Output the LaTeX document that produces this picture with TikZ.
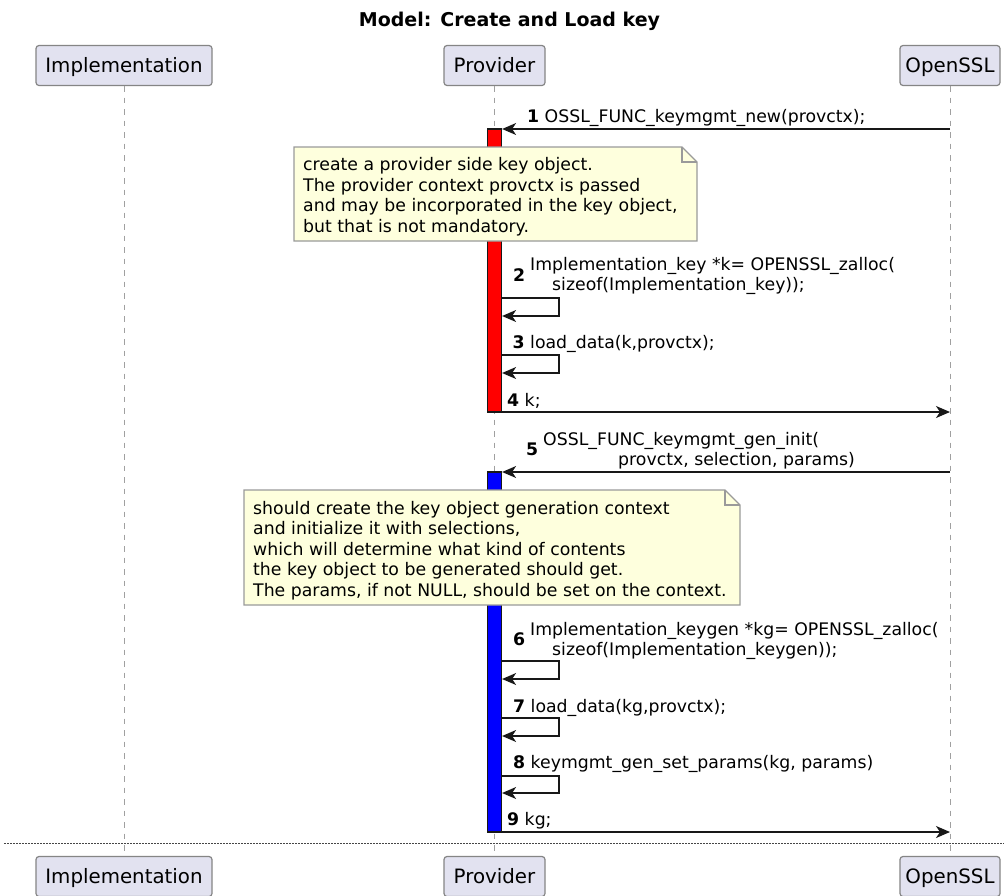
\documentclass[tikz,border=0pt]{standalone}
\usepackage{fontspec}
\setmainfont{DejaVu Sans}
\usetikzlibrary{arrows.meta}

\definecolor{partfill}{HTML}{E2E2F0}
\definecolor{partdraw}{HTML}{858585}
\definecolor{notefill}{HTML}{FEFFDD}
\definecolor{notedraw}{HTML}{9A9A9A}
\definecolor{ink}{HTML}{181818}
\definecolor{lifec}{HTML}{A0A0A0}

\newcommand{\msgfont}{\fontsize{17.3}{19.6}\selectfont}
\newcommand{\notefont}{\fontsize{17.3}{20.4}\selectfont}

\begin{document}
\begin{tikzpicture}[x=1pt,y=-1pt,
  part/.style={draw=partdraw, fill=partfill, rounded corners=3pt, line width=1.2pt,
    minimum height=40pt, inner sep=0pt, text height=14.3pt, text depth=0pt,
    font=\fontsize{19.8}{23}\selectfont},
  life/.style={draw=lifec, line width=1pt, dash pattern=on 5.5pt off 6pt},
  sepline/.style={draw=ink!80, line width=1pt, dash pattern=on 1.5pt off 1.5pt},
  actbar/.style={draw=ink, line width=1.2pt, minimum width=14pt, inner sep=0pt},
  notebg/.style={draw=notedraw, fill=notefill, line width=1.2pt, line join=miter},
  notefold/.style={draw=notedraw, line width=1.2pt},
  notetext/.style={anchor=base west, align=left, inner sep=0pt, font=\notefont},
  lbl/.style={anchor=base west, align=left, inner sep=0pt, font=\msgfont},
  msg/.style={draw=ink, line width=1.3pt, -{Stealth[length=14pt,width=12pt,inset=4pt]}},
  titlestyle/.style={anchor=base, inner sep=0pt, font=\bfseries\fontsize{19}{23}\selectfont}
]
\useasboundingbox (0,0) rectangle (1004,895);
\fill[white] (0,0) rectangle (1004,895);

% title
\node[titlestyle] (title) at (509.5,26) {Model: Create and Load key};

% participants
\node[part, minimum width=176pt] (impl) at (124,65.5) {Implementation};
\node[part, minimum width=101pt] (prov) at (494.5,65.5) {Provider};
\node[part, minimum width=100pt] (ossl) at (950,65.5) {OpenSSL};
\node[part, minimum width=176pt] (implB) at (124,876.5) {Implementation};
\node[part, minimum width=101pt] (provB) at (494.5,876.5) {Provider};
\node[part, minimum width=100pt] (osslB) at (950,876.5) {OpenSSL};

% lifelines
\draw[life] (impl.south) -- (implB.north);
\draw[life] (prov.south) -- (provB.north);
\draw[life] (ossl.south) -- (osslB.north);

% separator
\coordinate (sepL) at (4,843);
\coordinate (sepR) at (1004,843);
\draw[sepline] (sepL) -- (sepR);

% activation bars
\node[actbar, fill=red, minimum height=283pt] (act1) at (494.5,270.5) {};
\node[actbar, fill=blue, minimum height=360pt] (act2) at (494.5,652) {};

% note 1 (anchor at last line baseline)
\filldraw[notebg] (294,147) -- (682,147) -- (697,162) -- (697,241) -- (294,241) -- cycle;
\draw[notefold] (682,147) -- (682,162) -- (697,162);
\node[notetext] (note1) at (303,232) {create a provider side key object.\\The provider context provctx is passed\\and may be incorporated in the key object,\\but that is not mandatory.};

% note 2
\filldraw[notebg] (244,490) -- (725,490) -- (740,505) -- (740,605) -- (244,605) -- cycle;
\draw[notefold] (725,490) -- (725,505) -- (740,505);
\node[notetext] (note2) at (253,596) {should create the key object generation context\\and initialize it with selections,\\which will determine what kind of contents\\the key object to be generated should get.\\The params, if not NULL, should be set on the context.};

% message 1
\draw[msg] (ossl.south |- 0,129) -- (act1.east |- 0,129);
\node[lbl] (l1) at (527,122.5) {\textbf{1} OSSL\_FUNC\_keymgmt\_new(provctx);};

% message 2
\node[lbl] (n2) at (513,281) {\textbf{2}};
\node[lbl] (l2) at (530,290.5) {Implementation\_key *k= OPENSSL\_zalloc(\\\hspace*{22pt}sizeof(Implementation\_key));};
\draw[msg] (act1.east |- 0,298) -- ++(57,0) -- ++(0,18) -- (act1.east |- 0,316);

% message 3
\node[lbl] (l3) at (512.5,348) {\textbf{3} load\_data(k,provctx);};
\draw[msg] (act1.east |- 0,355) -- ++(57,0) -- ++(0,18) -- (act1.east |- 0,373);

% message 4
\node[lbl] (l4) at (507,406.5) {\textbf{4} k;};
\draw[msg] (act1.east |- 0,412) -- (ossl.south |- 0,412);

% message 5
\draw[msg] (ossl.south |- 0,472) -- (act2.east |- 0,472);
\node[lbl] (n5) at (526,455.5) {\textbf{5}};
\node[lbl] (l5) at (543,465.5) {OSSL\_FUNC\_keymgmt\_gen\_init(\\\hspace*{75pt}provctx, selection, params)};

% message 6
\node[lbl] (n6) at (513,645) {\textbf{6}};
\node[lbl] (l6) at (530,655) {Implementation\_keygen *kg= OPENSSL\_zalloc(\\\hspace*{22pt}sizeof(Implementation\_keygen));};
\draw[msg] (act2.east |- 0,661) -- ++(57,0) -- ++(0,18) -- (act2.east |- 0,679);

% message 7
\node[lbl] (l7) at (513,712) {\textbf{7} load\_data(kg,provctx);};
\draw[msg] (act2.east |- 0,718) -- ++(57,0) -- ++(0,18) -- (act2.east |- 0,736);

% message 8
\node[lbl] (l8) at (513,768) {\textbf{8} keymgmt\_gen\_set\_params(kg, params)};
\draw[msg] (act2.east |- 0,776) -- ++(57,0) -- ++(0,17) -- (act2.east |- 0,793);

% message 9
\node[lbl] (l9) at (507,825) {\textbf{9} kg;};
\draw[msg] (act2.east |- 0,832) -- (ossl.south |- 0,832);
\end{tikzpicture}
\end{document}
